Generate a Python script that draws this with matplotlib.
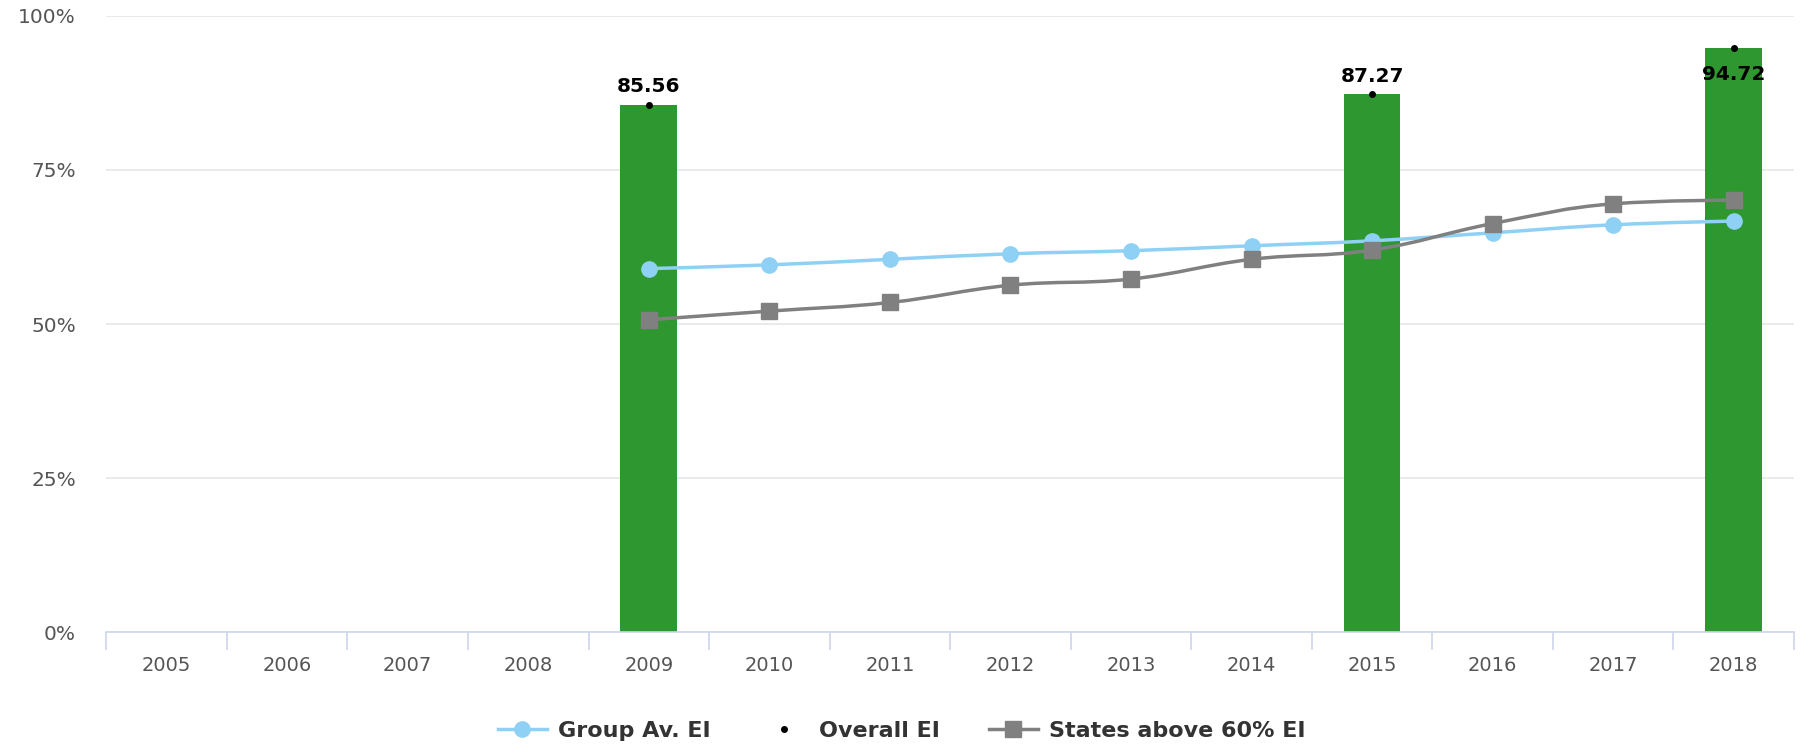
import matplotlib.pyplot as plt
from matplotlib.path import Path
from matplotlib.patches import PathPatch
from matplotlib.lines import Line2D
import numpy as np

# Données
annees = ['2005', '2006', '2007', '2008', '2009', '2010', '2011',
          '2012', '2013', '2014', '2015', '2016', '2017', '2018']
annees_moyenne = ['2009', '2010', '2011', '2012', '2013', '2014', '2015', '2016', '2017', '2018']
groupe_moyenne = [59.0, 59.6, 60.5, 61.4, 61.9, 62.7, 63.5, 64.8, 66.1, 66.7]
etats_60 = [50.7, 52.1, 53.5, 56.3, 57.3, 60.5, 62.0, 66.3, 69.5, 70.1]
annees_global = ['2009', '2015', '2018']
global_ei = [85.56, 87.27, 94.72]

vert = '#2f972f'
bleu = '#8fd0f5'
gris = '#808080'

plt.rcParams['font.family'] = ['DejaVu Sans']


def spline_path(xs, ys):
    # Courbe lissée façon Highcharts (courbes de Bézier cubiques)
    n = len(xs)
    lc = [(xs[i], ys[i]) for i in range(n)]
    rc = [(xs[i], ys[i]) for i in range(n)]
    s, d = 1.5, 2.5
    for i in range(1, n - 1):
        x, y = xs[i], ys[i]
        lx, ly = (s * x + xs[i - 1]) / d, (s * y + ys[i - 1]) / d
        rx, ry = (s * x + xs[i + 1]) / d, (s * y + ys[i + 1]) / d
        if rx != lx:
            corr = (ry - ly) * (rx - x) / (rx - lx) + y - ry
            ly += corr
            ry += corr
        if ly > max(ys[i - 1], y):
            ly = max(ys[i - 1], y); ry = 2 * y - ly
        elif ly < min(ys[i - 1], y):
            ly = min(ys[i - 1], y); ry = 2 * y - ly
        if ry > max(ys[i + 1], y):
            ry = max(ys[i + 1], y); ly = 2 * y - ry
        elif ry < min(ys[i + 1], y):
            ry = min(ys[i + 1], y); ly = 2 * y - ry
        lc[i] = (lx, ly)
        rc[i] = (rx, ry)
    verts = [(xs[0], ys[0])]
    codes = [Path.MOVETO]
    for i in range(1, n):
        verts += [rc[i - 1], lc[i], (xs[i], ys[i])]
        codes += [Path.CURVE4] * 3
    return Path(verts, codes)


fig, ax = plt.subplots(figsize=(18.03, 7.51), dpi=100)
fig.subplots_adjust(left=0.059, right=0.995, top=0.979, bottom=0.158)

pos = {a: i for i, a in enumerate(annees)}
x_moy = [pos[a] for a in annees_moyenne]
x_glob = [pos[a] for a in annees_global]

# Barres
ax.bar(x_glob, global_ei, width=0.47, color=vert, zorder=2)

# Courbes
ax.add_patch(PathPatch(spline_path(x_moy, groupe_moyenne), fill=False,
                       edgecolor=bleu, lw=2.5, zorder=3))
ax.plot(x_moy, groupe_moyenne, 'o', color=bleu, ms=11, zorder=4)
ax.add_patch(PathPatch(spline_path(x_moy, etats_60), fill=False,
                       edgecolor=gris, lw=2.5, zorder=3))
ax.plot(x_moy, etats_60, 's', color=gris, ms=11, zorder=4)

# Points Overall EI et étiquettes
ax.plot(x_glob, global_ei, 'o', color='black', ms=4, zorder=5)
for x, v in zip(x_glob, global_ei):
    if v > 92:
        ax.annotate(f'{v:.2f}', (x, v), xytext=(0, -12), textcoords='offset points',
                    ha='center', va='top', fontsize=14.5, fontweight='bold', zorder=6)
    else:
        ax.annotate(f'{v:.2f}', (x, v), xytext=(0, 6), textcoords='offset points',
                    ha='center', va='bottom', fontsize=14.5, fontweight='bold', zorder=6)

# Axes
ax.set_xlim(-0.5, len(annees) - 0.5)
ax.set_ylim(0, 100)
ax.set_yticks([0, 25, 50, 75, 100])
ax.set_yticklabels(['0%', '25%', '50%', '75%', '100%'])
ax.set_xticks(range(len(annees)))
ax.set_xticklabels(annees)
ax.set_xticks(np.arange(-0.5, len(annees), 1), minor=True)
ax.tick_params(axis='x', which='major', length=0, pad=17, labelsize=14, labelcolor='#555555')
ax.tick_params(axis='x', which='minor', length=13, color='#ccd6eb', width=1.2)
ax.tick_params(axis='y', length=0, pad=22, labelsize=14.5, labelcolor='#555555')
ax.grid(axis='y', color='#e6e6e6', lw=1.2, zorder=0)
ax.set_axisbelow(True)
for s in ['top', 'right', 'left']:
    ax.spines[s].set_visible(False)
ax.spines['bottom'].set_color('#ccd6eb')
ax.spines['bottom'].set_linewidth(1.2)

# Légende
handles = [
    Line2D([], [], color=bleu, lw=2.5, marker='o', ms=11),
    Line2D([], [], color='black', lw=0, marker='o', ms=4),
    Line2D([], [], color=gris, lw=2.5, marker='s', ms=11),
]
fig.legend(handles, ['Group Av. EI', 'Overall EI', 'States above 60% EI'],
           loc='center', bbox_to_anchor=(0.5, 0.027), ncol=3, frameon=False,
           prop={'size': 16, 'weight': 'bold'}, handlelength=2.2, handletextpad=0.5,
           columnspacing=2.2, labelcolor='#333333')

fig.savefig('out.png', dpi=100)
